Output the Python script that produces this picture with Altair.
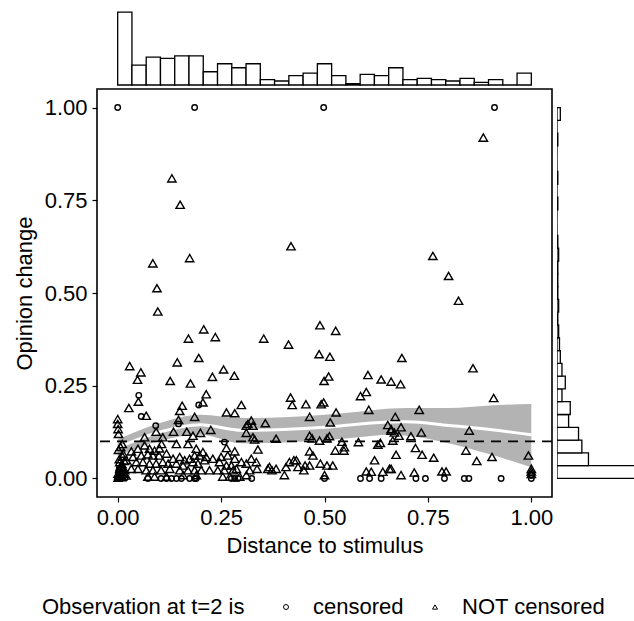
import altair as alt
import pandas as pd

# ---------------- data ----------------
# censored observations (open circles)
CENS_X = [0.000, 0.186, 0.498, 0.911,
          0.051, 0.057, 0.196, 0.092, 0.147, 0.258,
          0.073, 0.105, 0.118, 0.130, 0.142, 0.154, 0.174, 0.186, 0.190, 0.275,
          0.283, 0.291, 0.324, 0.500, 0.587, 0.609, 0.637, 0.721, 0.744, 0.790,
          0.838, 0.849, 0.927, 1.000, 1.000,
          0.000, 0.003, 0.006, 0.002, 0.008, 0.012, 0.015, 0.004, 0.010, 0.018]
CENS_Y = [1.000, 1.000, 1.000, 1.000,
          0.224, 0.167, 0.198, 0.142, 0.147, 0.098,
          0.000, 0.000, 0.000, 0.000, 0.000, 0.000, 0.000, 0.000, 0.000, 0.000,
          0.000, 0.000, 0.000, 0.000, 0.000, 0.000, 0.000, 0.000, 0.000, 0.000,
          0.000, 0.000, 0.000, 0.000, 0.008,
          0.000, 0.004, 0.010, 0.018, 0.000, 0.003, 0.008, 0.027, 0.015, 0.001]

# not censored observations (open triangles)
TRI_X = [0.884, 0.131, 0.151, 0.419, 0.762, 0.800, 0.824, 0.085, 0.174, 0.095,
         0.097, 0.208, 0.171, 0.236, 0.353, 0.413, 0.489, 0.527, 0.487, 0.513,
         0.687, 0.859, 0.029, 0.056, 0.048, 0.144, 0.196, 0.127, 0.176, 0.256,
         0.229, 0.282, 0.510, 0.499, 0.605, 0.637, 0.661, 0.684,
         0.050, 0.027, 0.069, 0.156, 0.150, 0.206, 0.214, 0.263, 0.283, 0.299,
         0.186, 0.000, 0.000, 0.001, 0.002, 0.147, 0.135, 0.167, 0.182, 0.200,
         0.225, 0.311, 0.311, 0.093, 0.109, 0.065, 0.011, 0.106, 0.142, 0.170,
         0.263, 0.283, 0.190, 0.206,
         0.013, 0.033, 0.049, 0.065, 0.077, 0.089, 0.101, 0.037, 0.057, 0.073,
         0.085, 0.100, 0.118, 0.134, 0.150, 0.162, 0.174, 0.186, 0.198, 0.214,
         0.230, 0.250, 0.266, 0.283, 0.299, 0.311, 0.005, 0.021, 0.045, 0.061,
         0.077, 0.093, 0.109, 0.122, 0.142, 0.158, 0.182, 0.194, 0.210, 0.246,
         0.263, 0.275, 0.287, 0.005, 0.017, 0.033, 0.049, 0.069, 0.085, 0.105,
         0.126, 0.150, 0.170, 0.186, 0.202, 0.222, 0.242, 0.258, 0.279, 0.001,
         0.005, 0.001, 0.073, 0.089, 0.118, 0.158, 0.190, 0.254, 0.271, 0.295,
         0.311,
         0.003, 0.006, 0.008, 0.004, 0.010, 0.012, 0.002, 0.015, 0.009, 0.020,
         0.013, 0.007, 0.016,
         0.587, 0.601, 0.418, 0.422, 0.455, 0.498, 0.528, 0.607, 0.464, 0.357,
         0.514, 0.323, 0.315, 0.327, 0.653, 0.661, 0.327, 0.331, 0.383, 0.464,
         0.470, 0.488, 0.506, 0.512, 0.542, 0.582, 0.629, 0.635, 0.339, 0.464,
         0.472, 0.526, 0.547, 0.548, 0.323, 0.335, 0.337, 0.319, 0.363, 0.373,
         0.407, 0.415, 0.432, 0.436, 0.450, 0.403, 0.464, 0.490, 0.506, 0.520,
         0.500, 0.621, 0.601, 0.613, 0.641, 0.657,
         0.909, 0.729, 0.671, 0.685, 0.661, 0.669, 0.680, 0.665, 0.734, 0.709,
         0.850, 0.720, 0.736, 0.764, 0.673, 0.842, 0.868, 0.905, 0.993, 0.661,
         0.685, 0.717, 0.784, 0.794, 1.000, 1.000, 1.000,
         0.367, 0.383, 0.492, 0.426, 0.453]
TRI_Y = [0.919, 0.809, 0.738, 0.626, 0.600, 0.546, 0.479, 0.580, 0.594, 0.513,
         0.450, 0.402, 0.377, 0.381, 0.377, 0.361, 0.413, 0.398, 0.335, 0.328,
         0.325, 0.297, 0.303, 0.286, 0.266, 0.313, 0.325, 0.263, 0.256, 0.294,
         0.274, 0.277, 0.275, 0.263, 0.279, 0.267, 0.261, 0.254,
         0.207, 0.190, 0.169, 0.196, 0.182, 0.205, 0.227, 0.178, 0.176, 0.198,
         0.166, 0.160, 0.147, 0.133, 0.120, 0.158, 0.126, 0.126, 0.115, 0.123,
         0.131, 0.142, 0.123, 0.126, 0.111, 0.111, 0.093, 0.093, 0.093, 0.093,
         0.082, 0.073, 0.080, 0.071,
         0.067, 0.073, 0.080, 0.089, 0.080, 0.075, 0.081, 0.058, 0.062, 0.065,
         0.062, 0.062, 0.067, 0.053, 0.058, 0.049, 0.053, 0.062, 0.062, 0.058,
         0.053, 0.058, 0.062, 0.053, 0.044, 0.040, 0.044, 0.049, 0.044, 0.044,
         0.040, 0.040, 0.044, 0.040, 0.040, 0.035, 0.044, 0.040, 0.049, 0.044,
         0.035, 0.035, 0.026, 0.026, 0.022, 0.026, 0.026, 0.022, 0.022, 0.022,
         0.026, 0.022, 0.022, 0.022, 0.022, 0.022, 0.022, 0.022, 0.022, 0.013,
         0.005, 0.002, 0.005, 0.005, 0.005, 0.009, 0.009, 0.005, 0.005, 0.005,
         0.009,
         0.008, 0.016, 0.032, 0.052, 0.039, 0.059, 0.077, 0.013, 0.004, 0.008,
         0.027, 0.085, 0.047,
         0.222, 0.233, 0.218, 0.198, 0.200, 0.205, 0.178, 0.185, 0.166, 0.149,
         0.151, 0.156, 0.147, 0.142, 0.144, 0.129, 0.111, 0.105, 0.107, 0.115,
         0.108, 0.102, 0.108, 0.114, 0.099, 0.098, 0.091, 0.096, 0.078, 0.073,
         0.062, 0.075, 0.075, 0.084, 0.053, 0.044, 0.026, 0.022, 0.026, 0.022,
         0.031, 0.044, 0.049, 0.031, 0.022, 0.009, 0.035, 0.040, 0.035, 0.035,
         0.009, 0.049, 0.019, 0.018, 0.018, 0.026,
         0.217, 0.185, 0.166, 0.138, 0.133, 0.124, 0.115, 0.102, 0.124, 0.114,
         0.129, 0.082, 0.064, 0.056, 0.064, 0.075, 0.047, 0.058, 0.062, 0.026,
         0.009, 0.016, 0.019, 0.019, 0.026, 0.019, 0.012,
         0.031, 0.026, 0.200, 0.049, 0.035]

# marginal histogram counts, 29 equal bins on [0, 1]
HIST_X_COUNTS = [55, 15, 21, 20, 22, 22, 10, 16, 13, 16, 4, 3, 7, 9, 16,
                 7, 1, 8, 7, 13, 4, 5, 4, 3, 5, 2, 4, 0, 9]
HIST_Y_COUNTS = [110, 38, 30, 26, 14, 16, 6, 10, 6, 4, 3, 2, 1, 2, 1,
                 1, 1, 2, 1, 0, 0, 1, 0, 1, 0, 0, 1, 0, 4]

# loess smoother and its confidence band
SMOOTH_X = [0.0, 0.1, 0.2, 0.3, 0.4, 0.5, 0.6, 0.65, 0.7, 0.8, 0.9, 1.0]
SMOOTH_FIT = [0.083, 0.125, 0.145, 0.130, 0.132, 0.138, 0.148, 0.152, 0.153, 0.143, 0.132, 0.118]
SMOOTH_LO = [0.061, 0.101, 0.118, 0.095, 0.097, 0.103, 0.113, 0.118, 0.115, 0.095, 0.065, 0.030]
SMOOTH_HI = [0.105, 0.149, 0.172, 0.163, 0.165, 0.172, 0.182, 0.188, 0.190, 0.190, 0.197, 0.201]

MEAN_Y = [0.10]
TICKS = [0.0, 0.25, 0.5, 0.75, 1.0]
STATUS = ["censored", "NOT censored"]

# ---------------- tables ----------------
cens = pd.DataFrame({"x": CENS_X, "y": CENS_Y, "status": STATUS[0]})
tri = pd.DataFrame({"x": TRI_X, "y": TRI_Y, "status": STATUS[1]})
nb = len(HIST_X_COUNTS)
hx = pd.DataFrame({"x0": [i / nb for i in range(nb)],
                   "x1": [(i + 1) / nb for i in range(nb)],
                   "n": HIST_X_COUNTS})
nby = len(HIST_Y_COUNTS)
hy = pd.DataFrame({"y0": [i / nby for i in range(nby)],
                   "y1": [(i + 1) / nby for i in range(nby)],
                   "n": HIST_Y_COUNTS})
sm = pd.DataFrame({"x": SMOOTH_X, "fit": SMOOTH_FIT, "lo": SMOOTH_LO, "hi": SMOOTH_HI})
mean_df = pd.DataFrame({"m": MEAN_Y})

W, H = 455, 408
XS = alt.Scale(domain=[-0.05, 1.05], nice=False, zero=False)
YS = alt.Scale(domain=[-0.05, 1.05], nice=False, zero=False)
FS = 22

x_axis = alt.Axis(values=TICKS, format=".2f", grid=False, domain=False,
                  tickColor="black", tickSize=5, tickWidth=1.2,
                  labelFontSize=FS, labelColor="black", labelPadding=5,
                  title="Distance to stimulus", titleFontSize=FS,
                  titleFontWeight="normal", titleColor="black", titlePadding=7)
y_axis = alt.Axis(values=TICKS, format=".2f", grid=False, domain=False,
                  tickColor="black", tickSize=5, tickWidth=1.2,
                  labelFontSize=FS, labelColor="black", labelPadding=5,
                  title="Opinion change", titleFontSize=FS,
                  titleFontWeight="normal", titleColor="black", titlePadding=8)

shape_enc = alt.Shape(
    "status:N",
    scale=alt.Scale(domain=STATUS, range=["circle", "triangle-up"]),
    legend=alt.Legend(title="Observation at t=2 is", orient="none",
                      legendX=-55, legendY=591,
                      direction="horizontal", titleOrient="left",
                      titleFontSize=FS, titleFontWeight="normal",
                      titleColor="black", titlePadding=30, titleLimit=400,
                      labelFontSize=FS, labelColor="black", labelLimit=300,
                      labelOffset=16, columnPadding=20,
                      symbolSize=25, symbolStrokeWidth=1,
                      symbolStrokeColor="black",
                      symbolFillColor="transparent"))

band = alt.Chart(sm).mark_area(color="#b3b3b3", interpolate="monotone").encode(
    x=alt.X("x:Q", scale=XS, axis=x_axis),
    y=alt.Y("lo:Q", scale=YS, axis=y_axis),
    y2="hi:Q",
)
line = alt.Chart(sm).mark_line(color="white", strokeWidth=3, interpolate="monotone").encode(
    x=alt.X("x:Q", scale=XS), y=alt.Y("fit:Q", scale=YS))

circ_layer = alt.Chart(cens).mark_point(filled=False, color="black", strokeWidth=1.4,
                                        opacity=1, size=30).encode(
    x=alt.X("x:Q", scale=XS), y=alt.Y("y:Q", scale=YS), shape=shape_enc)
tri_layer = alt.Chart(tri).mark_point(filled=False, color="black", strokeWidth=1.4,
                                      opacity=1, size=70).encode(
    x=alt.X("x:Q", scale=XS), y=alt.Y("y:Q", scale=YS), shape=shape_enc)

rule = alt.Chart(mean_df).mark_rule(color="black", strokeWidth=1.6, strokeDash=[10, 7]).encode(
    y=alt.Y("m:Q", scale=YS))

main = alt.layer(band, line, circ_layer, tri_layer, rule).properties(
    width=W, height=H, view=alt.ViewBackground(stroke="black", strokeWidth=1.6))

top = alt.Chart(hx).mark_rect(fill="white", stroke="black", strokeWidth=1.3).encode(
    x=alt.X("x0:Q", scale=XS, axis=None),
    x2="x1:Q",
    y=alt.Y("n:Q", scale=alt.Scale(domain=[0, 60.3], nice=False), axis=None),
    y2=alt.datum(0),
).properties(width=W, height=80, view=alt.ViewBackground(stroke=None))

RW = 77
right = alt.Chart(hy).mark_rect(fill="white", stroke="black", strokeWidth=1.3, clip=True).encode(
    y=alt.Y("y0:Q", scale=YS, axis=None),
    y2="y1:Q",
    x=alt.X("n:Q", scale=alt.Scale(domain=[0, 93], nice=False), axis=None),
    x2=alt.datum(0),
).properties(width=RW, height=H, view=alt.ViewBackground(stroke=None))

blank = alt.Chart(pd.DataFrame({"v": [0]})).mark_point(opacity=0).encode(
    x=alt.X("v:Q", axis=None), y=alt.Y("v:Q", axis=None)
).properties(width=RW, height=80, view=alt.ViewBackground(stroke=None))

chart = alt.concat(top, blank, main, right, columns=2,
                   spacing=alt.RowColnumber(row=4, column=5),
                   bounds="flush", align="each").properties(
    padding={"left": 12, "top": 5, "right": 0, "bottom": 0}
).configure(font="Liberation Sans").configure_view(stroke=None)

chart.save("out.html", embed_options={"renderer": "svg", "actions": False})
